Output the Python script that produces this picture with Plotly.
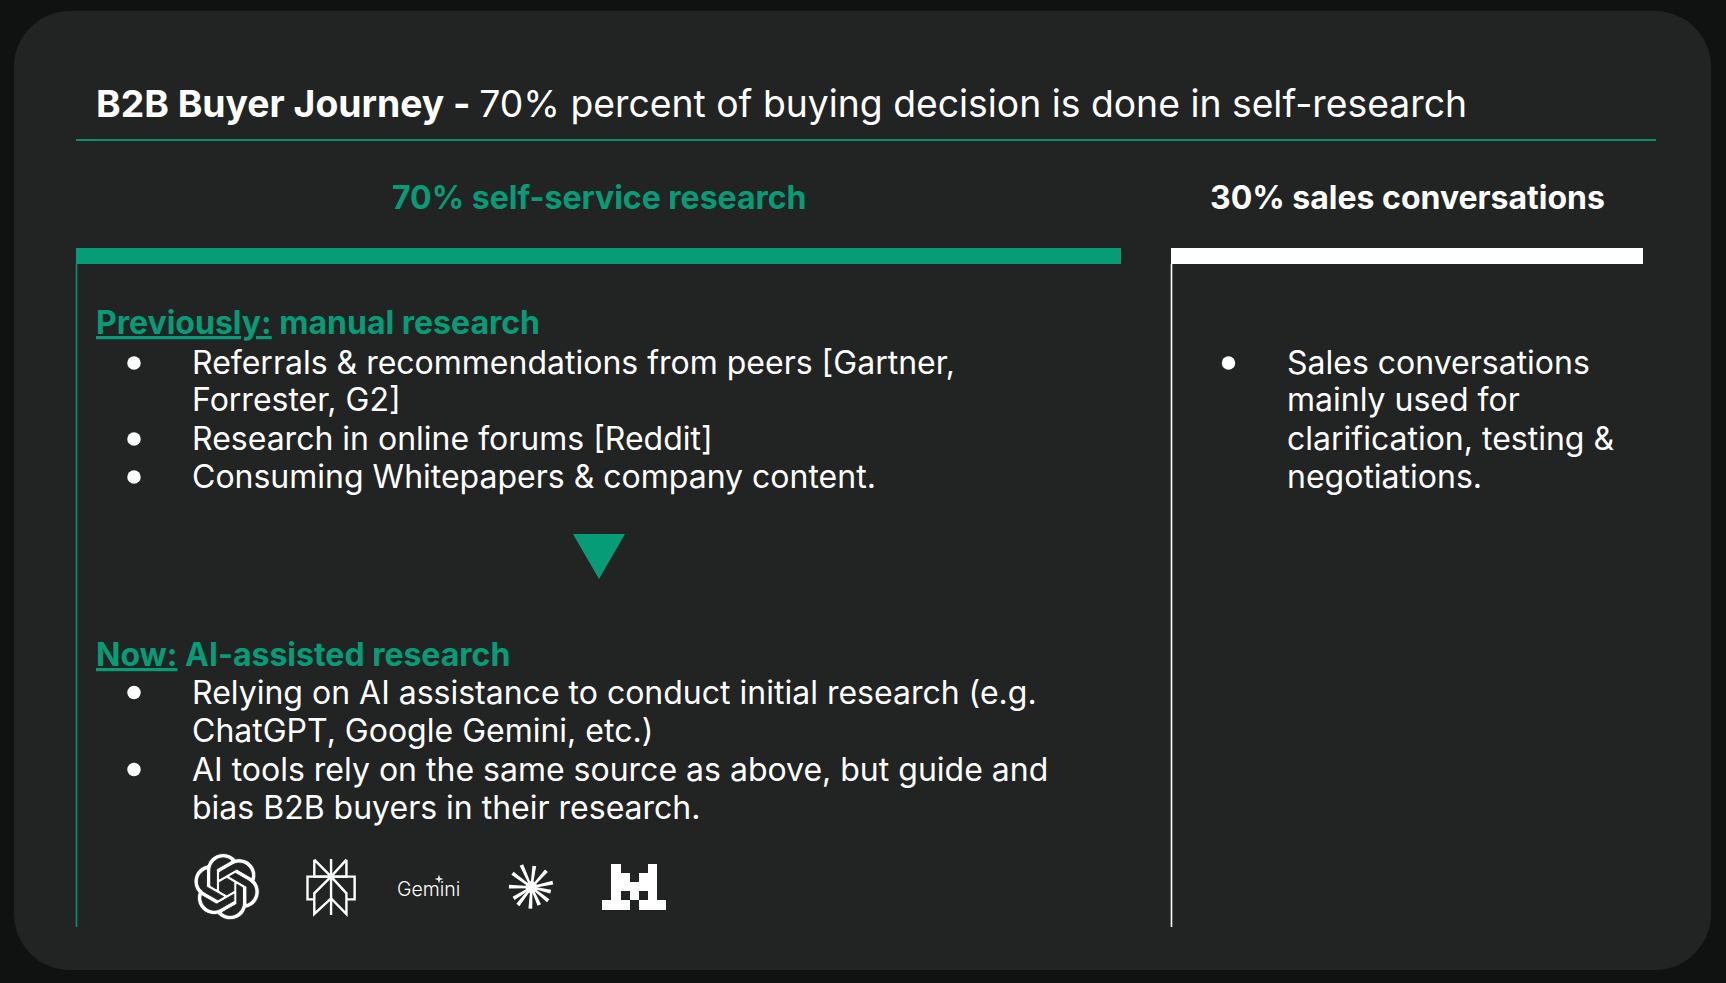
import math
import re
import plotly.graph_objects as go

# ---- content ----
TITLE = "<b>B2B Buyer Journey - </b>70% percent of buying decision is done in self-research"
SHARE_LABELS = ["<b>70% self-service research</b>", "<b>30% sales conversations</b>"]
PREV_HEAD = "<b><u>Previously:</u> manual research</b>"
PREV_LINES = ["Referrals &amp; recommendations from peers [Gartner,", "Forrester, G2]",
              "Research in online forums [Reddit]", "Consuming Whitepapers &amp; company content."]
NOW_HEAD = "<b><u>Now:</u> AI-assisted research</b>"
NOW_LINES = ["Relying on AI assistance to conduct initial research (e.g.", "ChatGPT, Google Gemini, etc.)",
             "AI tools rely on the same source as above, but guide and", "bias B2B buyers in their research."]
SALES_LINES = ["Sales conversations", "mainly used for", "clarification, testing &amp;", "negotiations."]
GEMINI = "Gemini"

# ---- style ----
PAGE = "#0f1211"
PANEL = "#222423"
GREEN = "#079c78"
RULE = "#0b8f6f"
WHITE = "#ffffff"
FONT = "Inter"
W, H = 1726, 983

OPENAI_PATH = ("M22.2819 9.8211a5.9847 5.9847 0 0 0-.5157-4.9108 6.0462 6.0462 0 0 0-6.5098-2.9A6.0651 6.0651 0 0 0 4.9807 4.1818"
 "a5.9847 5.9847 0 0 0-3.9977 2.9 6.0462 6.0462 0 0 0 .7427 7.0966 5.98 5.98 0 0 0 .511 4.9107 6.051 6.051 0 0 0 6.5146 2.9001"
 "A5.9847 5.9847 0 0 0 13.2599 24a6.0557 6.0557 0 0 0 5.7718-4.2058 5.9894 5.9894 0 0 0 3.9977-2.9001 6.0557 6.0557 0 0 0-.7475-7.0729z"
 "m-9.022 12.6081a4.4755 4.4755 0 0 1-2.8764-1.0408l.1419-.0804 4.7783-2.7582a.7948.7948 0 0 0 .3927-.6813v-6.7369l2.02 1.1686a.071.071 0 0 1 .038.052v5.5826a4.504 4.504 0 0 1-4.4945 4.4944z"
 "m-9.6607-4.1254a4.4708 4.4708 0 0 1-.5346-3.0137l.142.0852 4.783 2.7582a.7712.7712 0 0 0 .7806 0l5.8428-3.3685v2.3324a.0804.0804 0 0 1-.0332.0615L9.74 19.9502a4.4992 4.4992 0 0 1-6.1408-1.6464z"
 "M2.3408 7.8956a4.485 4.485 0 0 1 2.3655-1.9728V11.6a.7664.7664 0 0 0 .3879.6765l5.8144 3.3543-2.0201 1.1685a.0757.0757 0 0 1-.071 0l-4.8303-2.7865A4.504 4.504 0 0 1 2.3408 7.872z"
 "m16.5963 3.8558L13.1038 8.364 15.1192 7.2a.0757.0757 0 0 1 .071 0l4.8303 2.7913a4.4944 4.4944 0 0 1-.6765 8.1042v-5.6772a.79.79 0 0 0-.407-.667z"
 "m2.0107-3.0231l-.142-.0852-4.7735-2.7818a.7759.7759 0 0 0-.7854 0L9.409 9.2297V6.8974a.0662.0662 0 0 1 .0284-.0615l4.8303-2.7866a4.4992 4.4992 0 0 1 6.6802 4.66z"
 "M8.3065 12.863l-2.02-1.1638a.0804.0804 0 0 1-.038-.0567V6.0742a4.4992 4.4992 0 0 1 7.3757-3.4537l-.142.0805L8.704 5.459a.7948.7948 0 0 0-.3927.6813z"
 "m1.0976-2.3654l2.602-1.4998 2.6069 1.4998v2.9994l-2.5974 1.4997-2.6067-1.4997Z")


def arc_points(x0, y0, rx, ry, phi, large, sweep, x1, y1, n=10):
    if rx == 0 or ry == 0 or (x0 == x1 and y0 == y1):
        return [(x1, y1)]
    c, s = math.cos(math.radians(phi)), math.sin(math.radians(phi))
    dx, dy = (x0 - x1) / 2, (y0 - y1) / 2
    xp, yp = c * dx + s * dy, -s * dx + c * dy
    lam = xp ** 2 / rx ** 2 + yp ** 2 / ry ** 2
    if lam > 1:
        rx, ry = rx * math.sqrt(lam), ry * math.sqrt(lam)
    num = max(0, rx ** 2 * ry ** 2 - rx ** 2 * yp ** 2 - ry ** 2 * xp ** 2)
    co = math.sqrt(num / (rx ** 2 * yp ** 2 + ry ** 2 * xp ** 2))
    if large == sweep:
        co = -co
    cxp, cyp = co * rx * yp / ry, -co * ry * xp / rx
    cx, cy = c * cxp - s * cyp + (x0 + x1) / 2, s * cxp + c * cyp + (y0 + y1) / 2
    a0 = math.atan2((yp - cyp) / ry, (xp - cxp) / rx)
    a1 = math.atan2((-yp - cyp) / ry, (-xp - cxp) / rx)
    da = a1 - a0
    if sweep and da < 0:
        da += 2 * math.pi
    if not sweep and da > 0:
        da -= 2 * math.pi
    out = []
    for i in range(1, n + 1):
        a = a0 + da * i / n
        ex, ey = rx * math.cos(a), ry * math.sin(a)
        out.append((c * ex - s * ey + cx, s * ex + c * ey + cy))
    return out


def svg_to_shape_path(d, left, top, scale):
    """Flatten an SVG path to the absolute M/L/Z subset that Plotly shapes accept."""
    tokens = re.findall(r"[MmLlHhVvAaZz]|[-+]?(?:\d*\.\d+|\d+)", d)
    i, cmd = 0, None
    x = y = sx = sy = 0.0
    out = []

    def emit(op, px, py):
        out.append(f"{op}{left + px * scale:.2f},{top + py * scale:.2f}")

    def num():
        nonlocal i
        v = float(tokens[i])
        i += 1
        return v

    while i < len(tokens):
        if re.match(r"[A-Za-z]", tokens[i]):
            cmd = tokens[i]
            i += 1
        rel = cmd.islower()
        op = cmd.upper()
        if op == "Z":
            out.append("Z")
            x, y = sx, sy
            continue
        if op == "M":
            a, b = num(), num()
            x, y = (x + a, y + b) if rel else (a, b)
            sx, sy = x, y
            emit("M", x, y)
            cmd = "l" if rel else "L"
        elif op == "L":
            a, b = num(), num()
            x, y = (x + a, y + b) if rel else (a, b)
            emit("L", x, y)
        elif op == "H":
            a = num()
            x = x + a if rel else a
            emit("L", x, y)
        elif op == "V":
            a = num()
            y = y + a if rel else a
            emit("L", x, y)
        elif op == "A":
            rx, ry, phi, large, sweep, a, b = [num() for _ in range(7)]
            nx, ny = (x + a, y + b) if rel else (a, b)
            for px, py in arc_points(x, y, rx, ry, phi, int(large), int(sweep), nx, ny):
                emit("L", px, py)
            x, y = nx, ny
    return " ".join(out)


def rounded_rect(x0, y0, x1, y1, r):
    k = r * 0.4477
    return (f"M{x0 + r},{y0} L{x1 - r},{y0} C{x1 - k},{y0} {x1},{y0 + k} {x1},{y0 + r} "
            f"L{x1},{y1 - r} C{x1},{y1 - k} {x1 - k},{y1} {x1 - r},{y1} "
            f"L{x0 + r},{y1} C{x0 + k},{y1} {x0},{y1 - k} {x0},{y1 - r} "
            f"L{x0},{y0 + r} C{x0},{y0 + k} {x0 + k},{y0} {x0 + r},{y0} Z")


def poly(points):
    return "M" + " L".join(f"{a:.2f},{b:.2f}" for a, b in points) + " Z"


shapes = []


def add_rect(x0, y0, x1, y1, color):
    shapes.append(dict(type="rect", x0=x0, y0=y0, x1=x1, y1=y1, fillcolor=color, line_width=0, layer="below"))


def add_line(x0, y0, x1, y1, color, width):
    shapes.append(dict(type="line", x0=x0, y0=y0, x1=x1, y1=y1, line=dict(color=color, width=width), layer="below"))


def add_fill(path, color=WHITE):
    shapes.append(dict(type="path", path=path, fillcolor=color, line_width=0, layer="below"))


# page panel, rules, bars
add_fill(rounded_rect(14, 11, 1711, 970, 56), PANEL)
add_line(76, 140, 1656, 140, RULE, 2)
add_rect(76, 248, 1121, 264, GREEN)
add_rect(1171, 248, 1643, 264, WHITE)
add_line(76.5, 264, 76.5, 927, RULE, 1.6)
add_line(1171.5, 264, 1171.5, 927, WHITE, 1.6)
add_fill(poly([(573, 534), (625, 534), (599, 579)]), GREEN)

# logos: OpenAI knot, thinned by a panel-coloured outline
shapes.append(dict(type="path", path=svg_to_shape_path(OPENAI_PATH, 193.5, 853.5, 2.76),
                   fillcolor=WHITE, line=dict(color=PANEL, width=0.9), layer="below"))


# Perplexity mark (line drawing, in crop units of the logo strip)
def zx(v):
    return 150 + v / 2.8


def zy(v):
    return 830 + v / 3


pplx = [
    [(460, 89), (507, 140), (460, 140), (460, 89)],
    [(550, 89), (507, 140), (550, 140), (550, 89)],
    [(507, 87), (507, 255)],
    [(507, 140), (460, 190), (460, 252), (507, 205), (550, 252), (550, 190), (507, 140)],
    [(460, 208), (441, 208), (441, 140), (573, 140), (573, 208), (550, 208)],
]
for seg in pplx:
    p = "M" + " L".join(f"{zx(a):.2f},{zy(b):.2f}" for a, b in seg)
    shapes.append(dict(type="path", path=p, line=dict(color=WHITE, width=2.4), layer="below"))

# Claude starburst
cx, cy = zx(1068), zy(172)
tips = [(1040, 105), (1076, 108), (1110, 122), (1128, 158), (1122, 185), (1115, 212),
        (1090, 225), (1065, 236), (1030, 225), (1018, 205), (1005, 170), (1015, 130)]
for tx, ty in tips:
    ax, ay = zx(tx), zy(ty)
    d = math.hypot(ax - cx, ay - cy)
    nx, ny = -(ay - cy) / d, (ax - cx) / d
    add_fill(poly([(cx + nx, cy + ny), (ax + nx * 1.9, ay + ny * 1.9), (ax - nx * 1.9, ay - ny * 1.9), (cx - nx, cy - ny)]))
add_fill(rounded_rect(cx - 6, cy - 6, cx + 6, cy + 6, 6))

# Mistral blocks, snapped to whole pixels so neighbouring blocks leave no seams
mx = [1266, 1292, 1318, 1343, 1368, 1394, 1419, 1445]
my = [102, 130, 157, 184, 211, 240]
blocks = [(1, 2, 0), (5, 6, 0), (1, 3, 1), (4, 6, 1), (1, 6, 2), (1, 2, 3), (3, 4, 3), (5, 6, 3), (0, 3, 4), (4, 7, 4)]
for a, b, r in blocks:
    add_rect(round(zx(mx[a])), round(zy(my[r])), round(zx(mx[b])), round(zy(my[r + 1])), WHITE)

# Gemini sparkle
gx, gy, gr = 439, 879, 4.4
add_fill(poly([(gx, gy - gr), (gx + 1, gy - 1), (gx + gr, gy), (gx + 1, gy + 1),
               (gx, gy + gr), (gx - 1, gy + 1), (gx - gr, gy), (gx - 1, gy - 1)]))

notes = []


def add_text(x, y, text, size=32, color=WHITE, anchor="left", family=FONT, weight=None):
    font = dict(family=family, size=size, color=color)
    if weight:
        font["weight"] = weight
    notes.append(dict(x=x, y=y, text=text, showarrow=False, xanchor=anchor, yanchor="middle",
                      font=font, xref="x", yref="y", align=anchor))


add_text(93.8, 103.5, TITLE, size=37.3)
add_text(599, 197.5, SHARE_LABELS[0], color=GREEN, anchor="center")
add_text(1407, 197.5, SHARE_LABELS[1], anchor="center")
add_text(93.8, 322.5, PREV_HEAD, color=GREEN)
for y, t in zip([362, 399.5, 438.5, 476.5], PREV_LINES):
    add_text(189.8, y, t)
add_text(93.8, 654.5, NOW_HEAD, color=GREEN)
for y, t in zip([692, 730, 769.5, 807.5], NOW_LINES):
    add_text(189.8, y, t)
for y, t in zip([362, 399.5, 438.5, 476.5], SALES_LINES):
    add_text(1284.8, y, t)
add_text(428.5, 889, GEMINI, size=19.5, anchor="center", family=FONT, weight=300)

bx = [134, 134, 134, 134, 134, 1228.5]
by = [363, 439, 477, 692.5, 769.5, 363]

fig = go.Figure(go.Scatter(x=bx, y=by, mode="markers", hoverinfo="skip",
                           marker=dict(size=13.5, color=WHITE, line_width=0)))
fig.update_layout(
    width=W, height=H, margin=dict(l=0, r=0, t=0, b=0), showlegend=False,
    paper_bgcolor=PAGE, plot_bgcolor=PAGE, shapes=shapes, annotations=notes,
    xaxis=dict(range=[0, W], visible=False, fixedrange=True),
    yaxis=dict(range=[H, 0], visible=False, fixedrange=True),
)
fig.write_html("out.html", config=dict(displayModeBar=False),
               post_script="document.body.style.margin='0';document.body.style.background='%s';" % PAGE)
